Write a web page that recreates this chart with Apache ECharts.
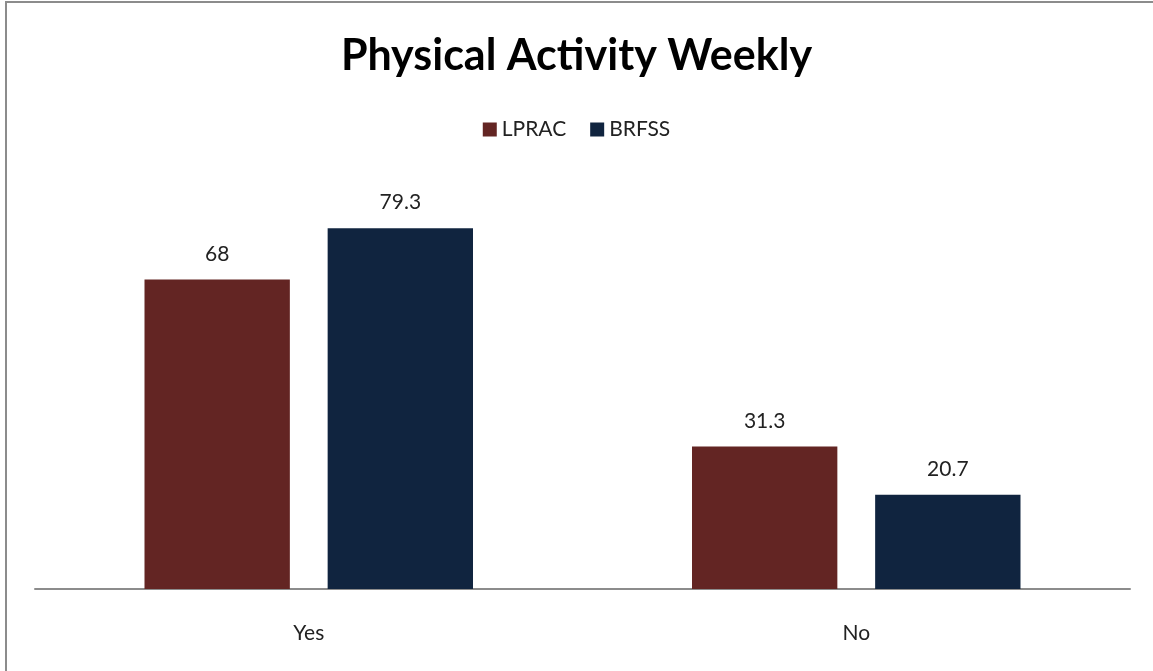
<!DOCTYPE html>
<html>
<head>
<meta charset="utf-8">
<script src="https://cdn.jsdelivr.net/npm/echarts@6/dist/echarts.min.js"></script>
<style>
  html, body { margin: 0; padding: 0; background: #fff; }
  #frame { position: absolute; left: 5px; top: 1px; width: 1148px; height: 670px;
           border-left: 2px solid #8c8c8c; border-top: 2px solid #8c8c8c; box-sizing: border-box; }
  #chart { position: absolute; left: 0; top: 0; width: 1153px; height: 671px; }
</style>
</head>
<body>
<div id="frame"></div>
<div id="chart"></div>
<script>
// Survey answers and the share (%) reported by each source
const categories = ['Yes', 'No'];
const lpracValues = [68, 31.3];
const brfssValues = [79.3, 20.7];
const seriesNames = ['LPRAC', 'BRFSS'];

const chart = echarts.init(document.getElementById('chart'), null, { renderer: 'canvas' });

const labelStyle = {
  show: true,
  position: 'top',
  distance: 15,
  color: '#222',
  fontFamily: 'Lato, "Open Sans", sans-serif',
  fontSize: 21
};

chart.setOption({
  animation: false,
  backgroundColor: 'transparent',
  title: {
    text: 'Physical Activity Weekly',
    left: 'center',
    top: 30,
    textStyle: { fontFamily: 'Lato, "Open Sans", sans-serif', fontWeight: 'bold', fontSize: 43, color: '#000' }
  },
  legend: {
    data: seriesNames,
    top: 114,
    left: 'center',
    icon: 'rect',
    itemWidth: 14,
    itemHeight: 14,
    itemGap: 24,
    textStyle: { fontFamily: 'Lato, "Open Sans", sans-serif', fontSize: 21, color: '#222' }
  },
  grid: { left: 35, right: 23, top: 134, bottom: 82, containLabel: false },
  xAxis: {
    type: 'category',
    data: categories,
    axisLine: { lineStyle: { color: '#8c8c8c', width: 2 } },
    axisTick: { show: false },
    axisLabel: { margin: 34, fontFamily: 'Lato, "Open Sans", sans-serif', fontSize: 21, color: '#222' }
  },
  yAxis: {
    type: 'value',
    min: 0,
    max: 100,
    show: false,
    splitLine: { show: false }
  },
  series: [
    {
      name: seriesNames[0],
      type: 'bar',
      data: lpracValues,
      barGap: '26%',
      barCategoryGap: '40%',
      itemStyle: { color: '#632523' },
      label: labelStyle
    },
    {
      name: seriesNames[1],
      type: 'bar',
      data: brfssValues,
      itemStyle: { color: '#10243f' },
      label: labelStyle
    }
  ]
});
</script>
</body>
</html>
